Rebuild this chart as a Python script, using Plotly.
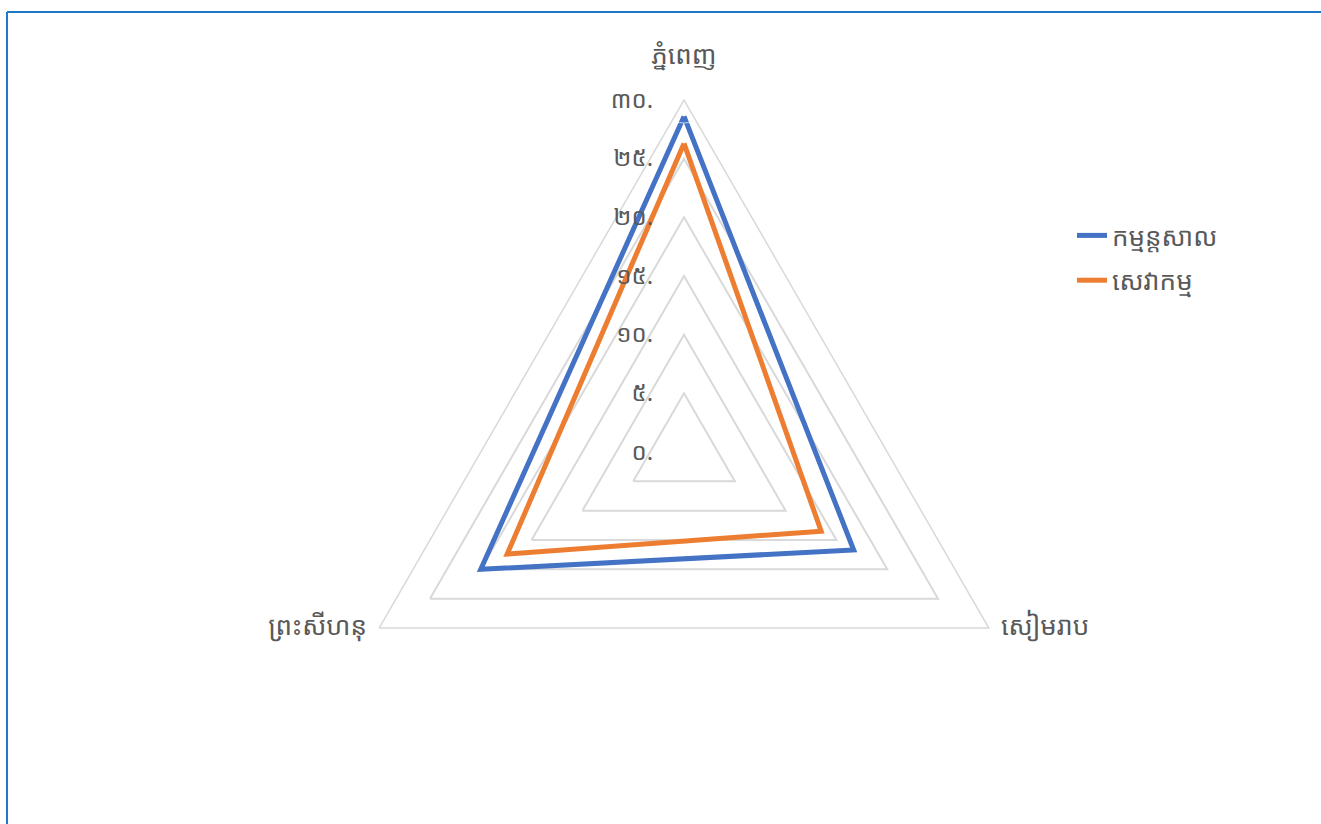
import plotly.graph_objects as go

categories = ["ភ្នំពេញ", "សៀមរាប", "ព្រះសីហនុ"]
series_names = ["កម្មន្តសាល", "សេវាកម្ម"]
industry = [28.6, 16.7, 20.0]
services = [26.3, 13.5, 17.4]
tick_vals = [0, 5, 10, 15, 20, 25, 30]
tick_text = ["០.", "៥.", "១០.", "១៥.", "២០.", "២៥.", "៣០."]
r_max = 30

W, H = 1321, 824
FONT = "Noto Sans Khmer, Khmer OS, Khmer OS System, Noto Sans, sans-serif"
GREY = "#595959"

fig = go.Figure()
for i, (name, vals, col) in enumerate([(series_names[0], industry, "#4472C4"),
                                       (series_names[1], services, "#ED7D31")]):
    fig.add_trace(go.Scatterpolar(
        r=vals + vals[:1], theta=categories + categories[:1],
        mode="lines", name=name, legendgroup=f"g{i}",
        line=dict(color=col, width=5),
    ))

# category labels drawn at the outer ring through the polar scale
fig.add_trace(go.Scatterpolar(
    r=[r_max] * len(categories), theta=categories,
    mode="markers+text", text=categories,
    textposition=["top center", "middle right", "middle left"],
    marker=dict(size=[46, 18, 18], color="rgba(0,0,0,0)"),
    textfont=dict(size=26, color=GREY, family=FONT),
    cliponaxis=False, showlegend=False, hoverinfo="skip",
))

cx, cy, R = 684, 452, 352
fig.update_layout(
    width=W, height=H,
    margin=dict(l=0, r=0, t=0, b=0),
    paper_bgcolor="white", plot_bgcolor="white",
    font=dict(family=FONT, color=GREY, size=24),
    showlegend=True,
    legend=dict(x=1072 / W, y=1 - 212 / H, xanchor="left", yanchor="top",
                font=dict(size=26, color=GREY), tracegroupgap=8,
                bgcolor="rgba(0,0,0,0)"),
    polar=dict(
        domain=dict(x=[(cx - R) / W, (cx + R) / W],
                    y=[(H - cy - R) / H, (H - cy + R) / H]),
        gridshape="linear",
        bgcolor="white",
        radialaxis=dict(range=[0, r_max], tickvals=tick_vals, ticktext=tick_text,
                        angle=90, side="counterclockwise", tickangle=90,
                        showline=False, ticks="outside", ticklen=22,
                        tickcolor="rgba(0,0,0,0)", gridcolor="#d9d9d9",
                        gridwidth=1.5, tickfont=dict(size=24, color=GREY)),
        angularaxis=dict(rotation=90, direction="clockwise", showgrid=False,
                         showline=True, linecolor="#d9d9d9", linewidth=1.5,
                         ticks="", showticklabels=False),
    ),
    shapes=[
        dict(type="line", xref="paper", yref="paper", x0=7 / W, x1=7 / W,
             y0=0, y1=1 - 12 / H, line=dict(color="#1f78c8", width=2)),
        dict(type="line", xref="paper", yref="paper", x0=7 / W, x1=1,
             y0=1 - 12 / H, y1=1 - 12 / H, line=dict(color="#1f78c8", width=2)),
    ],
)

fig.write_html("out.html", config={"displayModeBar": False},
               post_script="document.body.style.margin='0';document.body.style.overflow='hidden';")
